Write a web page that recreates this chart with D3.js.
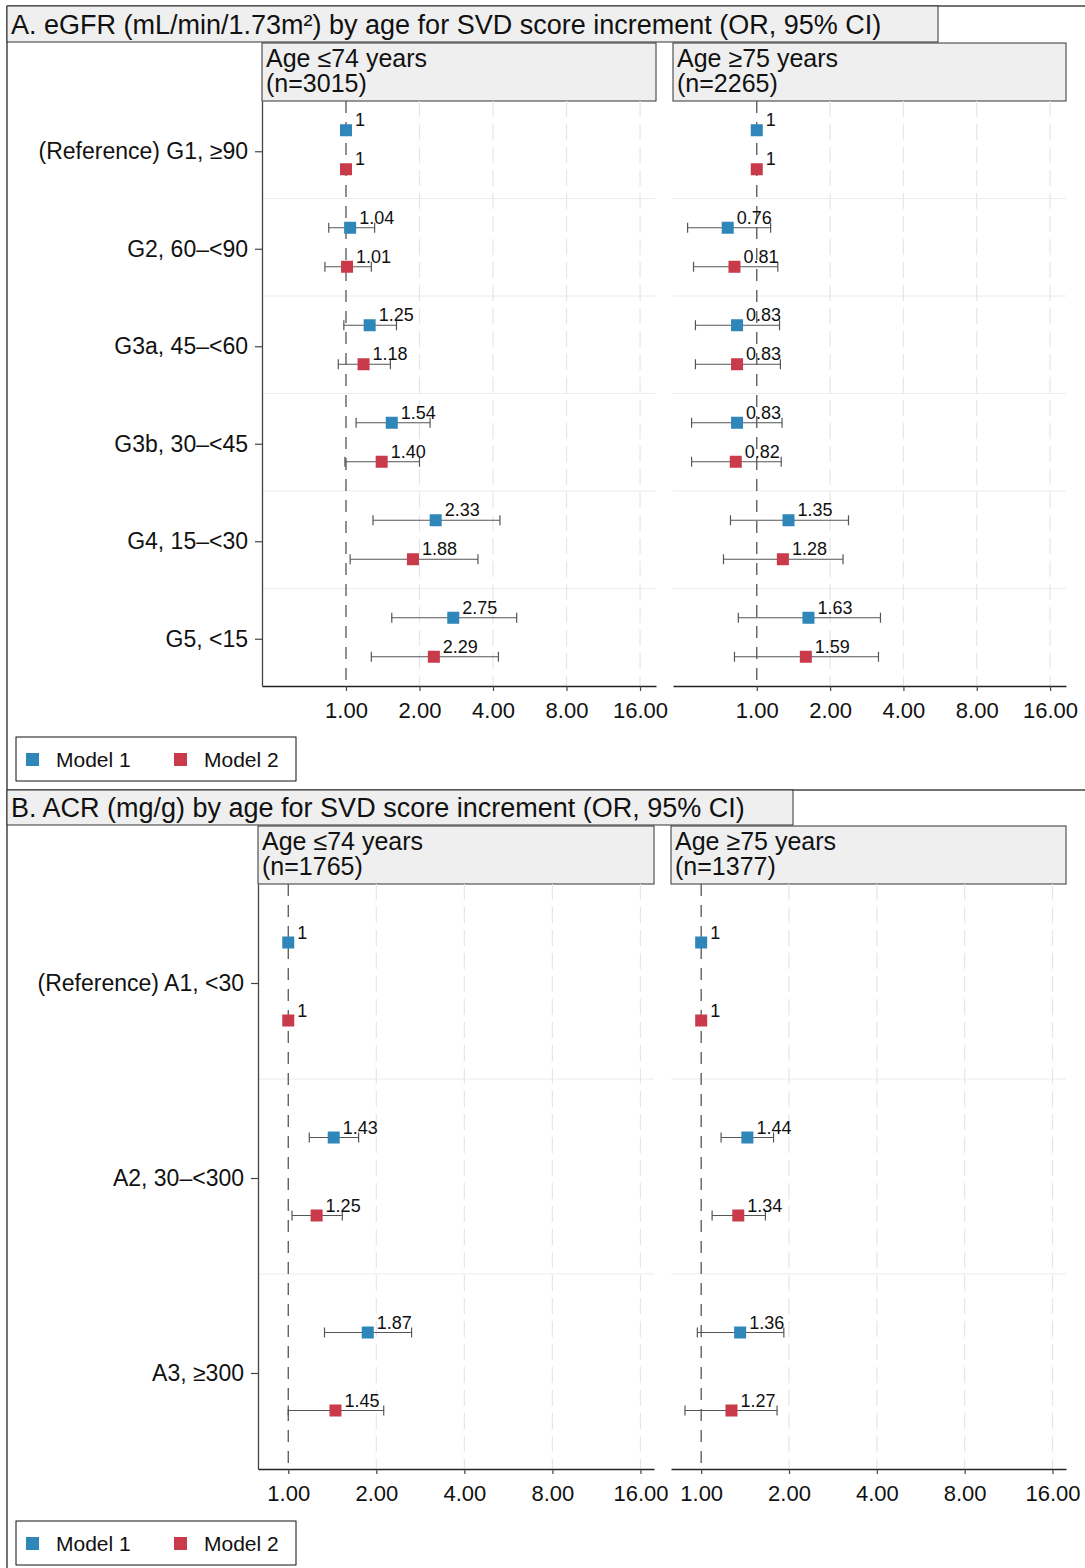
<!DOCTYPE html>
<html>
<head>
<meta charset="utf-8">
<script src="https://cdn.jsdelivr.net/npm/d3@7"></script>
<style>
  body { margin: 0; background: #fff; }
  svg { display: block; }
  text { font-family: "Liberation Sans", Arial, Helvetica, sans-serif; fill: #111; }
</style>
</head>
<body>
<svg id="chart" width="1085" height="1568"></svg>
<script>
// ---- categories and labels ----
const egfrCategories = ["(Reference) G1, ≥90", "G2, 60–<90", "G3a, 45–<60", "G3b, 30–<45", "G4, 15–<30", "G5, <15"];
const acrCategories = ["(Reference) A1, <30", "A2, 30–<300", "A3, ≥300"];
const modelNames = ["Model 1", "Model 2"];
const xTickValues = [1, 2, 4, 8, 16];
const egfrStrips = [["Age ≤74 years", "(n=3015)"], ["Age ≥75 years", "(n=2265)"]];
const acrStrips = [["Age ≤74 years", "(n=1765)"], ["Age ≥75 years", "(n=1377)"]];

// ---- eGFR: odds ratios with 95% CI (null = reference, no interval) ----
const egfrYoungM1Or = [1, 1.04, 1.25, 1.54, 2.33, 2.75];
const egfrYoungM1Lo = [null, 0.85, 0.98, 1.10, 1.29, 1.54];
const egfrYoungM1Hi = [null, 1.31, 1.61, 2.21, 4.27, 5.00];
const egfrYoungM2Or = [1, 1.01, 1.18, 1.40, 1.88, 2.29];
const egfrYoungM2Lo = [null, 0.82, 0.93, 0.99, 1.04, 1.27];
const egfrYoungM2Hi = [null, 1.27, 1.52, 2.00, 3.47, 4.21];
const egfrOldM1Or = [1, 0.76, 0.83, 0.83, 1.35, 1.63];
const egfrOldM1Lo = [null, 0.52, 0.56, 0.54, 0.78, 0.84];
const egfrOldM1Hi = [null, 1.14, 1.24, 1.27, 2.38, 3.22];
const egfrOldM2Or = [1, 0.81, 0.83, 0.82, 1.28, 1.59];
const egfrOldM2Lo = [null, 0.55, 0.56, 0.54, 0.73, 0.81];
const egfrOldM2Hi = [null, 1.22, 1.25, 1.26, 2.26, 3.16];

// ---- ACR: odds ratios with 95% CI ----
const acrYoungM1Or = [1, 1.43, 1.87];
const acrYoungM1Lo = [null, 1.18, 1.33];
const acrYoungM1Hi = [null, 1.74, 2.64];
const acrYoungM2Or = [1, 1.25, 1.45];
const acrYoungM2Lo = [null, 1.03, 1.00];
const acrYoungM2Hi = [null, 1.53, 2.12];
const acrOldM1Or = [1, 1.44, 1.36];
const acrOldM1Lo = [null, 1.17, 0.97];
const acrOldM1Hi = [null, 1.77, 1.92];
const acrOldM2Or = [1, 1.34, 1.27];
const acrOldM2Lo = [null, 1.09, 0.88];
const acrOldM2Hi = [null, 1.66, 1.82];

const modelColors = ["#2e86b9", "#c93a4b"];
const FONT = "'Liberation Sans', Arial, Helvetica, sans-serif";

function rows(cats, or, lo, hi) {
  return cats.map((c, i) => ({ cat: c, or: or[i], lo: lo[i], hi: hi[i] }));
}

const panels = [
  {
    title: "A. eGFR (mL/min/1.73m²) by age for SVD score increment (OR, 95% CI)",
    top: 6, titleW: 931, titleH: 36,
    stripTop: 43, plotTop: 101, plotBottom: 686,
    domain: [0.453, 18.6],
    categories: egfrCategories,
    legendY: 737,
    facets: [
      { x0: 262, x1: 656, strip: egfrStrips[0], yAxis: true,
        series: [rows(egfrCategories, egfrYoungM1Or, egfrYoungM1Lo, egfrYoungM1Hi),
                 rows(egfrCategories, egfrYoungM2Or, egfrYoungM2Lo, egfrYoungM2Hi)] },
      { x0: 673, x1: 1066, strip: egfrStrips[1], yAxis: false,
        series: [rows(egfrCategories, egfrOldM1Or, egfrOldM1Lo, egfrOldM1Hi),
                 rows(egfrCategories, egfrOldM2Or, egfrOldM2Lo, egfrOldM2Hi)] }
    ]
  },
  {
    title: "B. ACR (mg/g) by age for SVD score increment (OR, 95% CI)",
    top: 790, titleW: 786, titleH: 35,
    stripTop: 826, plotTop: 884, plotBottom: 1469,
    domain: [0.788, 17.8],
    categories: acrCategories,
    legendY: 1521,
    facets: [
      { x0: 258, x1: 654, strip: acrStrips[0], yAxis: true,
        series: [rows(acrCategories, acrYoungM1Or, acrYoungM1Lo, acrYoungM1Hi),
                 rows(acrCategories, acrYoungM2Or, acrYoungM2Lo, acrYoungM2Hi)] },
      { x0: 671, x1: 1066, strip: acrStrips[1], yAxis: false,
        series: [rows(acrCategories, acrOldM1Or, acrOldM1Lo, acrOldM1Hi),
                 rows(acrCategories, acrOldM2Or, acrOldM2Lo, acrOldM2Hi)] }
    ]
  }
];

const svg = d3.select("#chart");
const W = 1085, H = 1568, frameX = 7;

// outer frame: left edge runs the full height
svg.append("line").attr("x1", frameX).attr("x2", frameX).attr("y1", 6).attr("y2", H)
  .attr("stroke", "#444").attr("stroke-width", 1.5);

const fmt = d3.format(".2f");

panels.forEach(p => {
  const g = svg.append("g");

  // top border of the panel across the full width
  g.append("line").attr("x1", frameX).attr("x2", W).attr("y1", p.top).attr("y2", p.top)
    .attr("stroke", "#444").attr("stroke-width", 1.5);

  // title bar
  g.append("rect").attr("x", frameX).attr("y", p.top).attr("width", p.titleW).attr("height", p.titleH)
    .attr("fill", "#efefef").attr("stroke", "#333").attr("stroke-width", 1);
  g.append("text").attr("x", 11).attr("y", p.top + p.titleH / 2 + 9.5)
    .attr("font-size", 27).text(p.title);

  const y = d3.scaleBand().domain(p.categories).range([p.plotTop, p.plotBottom]);
  const bw = y.bandwidth();
  const offsets = [-0.2 * bw, 0.2 * bw];

  p.facets.forEach(f => {
    const x = d3.scaleLog().domain(p.domain).range([f.x0, f.x1]);
    const fg = g.append("g");

    // strip
    fg.append("rect").attr("x", f.x0).attr("y", p.stripTop).attr("width", f.x1 - f.x0)
      .attr("height", p.plotTop - p.stripTop)
      .attr("fill", "#efefef").attr("stroke", "#333").attr("stroke-width", 1);
    fg.selectAll("text.strip").data(f.strip).join("text").attr("class", "strip")
      .attr("x", f.x0 + 4).attr("y", (d, i) => p.stripTop + 24 + i * 25)
      .attr("font-size", 25).text(d => d);

    // horizontal separators between categories
    fg.selectAll("line.sep").data(p.categories.slice(1)).join("line").attr("class", "sep")
      .attr("x1", f.x0).attr("x2", f.x1)
      .attr("y1", d => y(d)).attr("y2", d => y(d))
      .attr("stroke", "#ececec").attr("stroke-width", 1.2);

    // vertical dashed gridlines
    fg.selectAll("line.grid").data(xTickValues.filter(v => v !== 1)).join("line").attr("class", "grid")
      .attr("x1", d => x(d)).attr("x2", d => x(d))
      .attr("y1", p.plotTop).attr("y2", p.plotBottom)
      .attr("stroke", "#e6e6e6").attr("stroke-width", 1.2).attr("stroke-dasharray", "16,7");

    // reference line at OR = 1
    fg.append("line").attr("x1", x(1)).attr("x2", x(1))
      .attr("y1", p.plotTop).attr("y2", p.plotBottom)
      .attr("stroke", "#555").attr("stroke-width", 1.3).attr("stroke-dasharray", "12,9");

    // bottom axis
    const xa = fg.append("g").attr("transform", `translate(0,${p.plotBottom})`)
      .call(d3.axisBottom(x).tickValues(xTickValues).tickFormat(fmt).tickSize(5).tickSizeOuter(0).tickPadding(11));
    xa.select(".domain").attr("stroke", "#222").attr("stroke-width", 1.3);
    xa.selectAll(".tick line").attr("stroke", "#444").attr("stroke-width", 1.2);
    xa.selectAll(".tick text").attr("font-size", 22).attr("fill", "#111").attr("font-family", FONT);

    // left axis for the first facet only
    if (f.yAxis) {
      const ya = fg.append("g").attr("transform", `translate(${f.x0},0)`)
        .call(d3.axisLeft(y).tickSize(7).tickSizeOuter(0).tickPadding(7));
      ya.select(".domain").attr("stroke", "#444").attr("stroke-width", 1.3);
      ya.selectAll(".tick").attr("transform", d => `translate(0,${y(d) + bw / 2 + 2})`);
      ya.selectAll(".tick line").attr("stroke", "#444").attr("stroke-width", 1.2);
      ya.selectAll(".tick text").attr("font-size", 23).attr("fill", "#111").attr("font-family", FONT);
    }

    // estimates per model
    f.series.forEach((s, m) => {
      const cy = d => y(d.cat) + bw / 2 + offsets[m];
      const sg = fg.append("g");
      const ci = s.filter(d => d.lo != null);

      sg.selectAll("line.ci").data(ci).join("line").attr("class", "ci")
        .attr("x1", d => x(d.lo)).attr("x2", d => x(d.hi))
        .attr("y1", cy).attr("y2", cy)
        .attr("stroke", "#555").attr("stroke-width", 1.2);
      ["lo", "hi"].forEach(k => {
        sg.selectAll("line.cap-" + k).data(ci).join("line").attr("class", "cap-" + k)
          .attr("x1", d => x(d[k])).attr("x2", d => x(d[k]))
          .attr("y1", d => cy(d) - 5).attr("y2", d => cy(d) + 5)
          .attr("stroke", "#555").attr("stroke-width", 1.2);
      });

      sg.selectAll("rect.pt").data(s).join("rect").attr("class", "pt")
        .attr("x", d => x(d.or) - 6).attr("y", d => cy(d) - 6)
        .attr("width", 12).attr("height", 12)
        .attr("fill", modelColors[m]);

      sg.selectAll("text.val").data(s).join("text").attr("class", "val")
        .attr("x", d => x(d.or) + 9).attr("y", d => cy(d) - 4)
        .attr("font-size", 18)
        .text(d => d.lo == null ? "1" : fmt(d.or));
    });
  });

  // legend
  const lg = g.append("g").attr("transform", `translate(16,${p.legendY})`);
  lg.append("rect").attr("width", 280).attr("height", 44)
    .attr("fill", "#fff").attr("stroke", "#111").attr("stroke-width", 1);
  const items = lg.selectAll("g.item").data(modelNames).join("g").attr("class", "item")
    .attr("transform", (d, i) => `translate(${10 + i * 148},0)`);
  items.append("rect").attr("x", 0).attr("y", 16).attr("width", 13).attr("height", 13)
    .attr("fill", (d, i) => modelColors[i]);
  items.append("text").attr("x", 30).attr("y", 30).attr("font-size", 21).text(d => d);
});
</script>
</body>
</html>
